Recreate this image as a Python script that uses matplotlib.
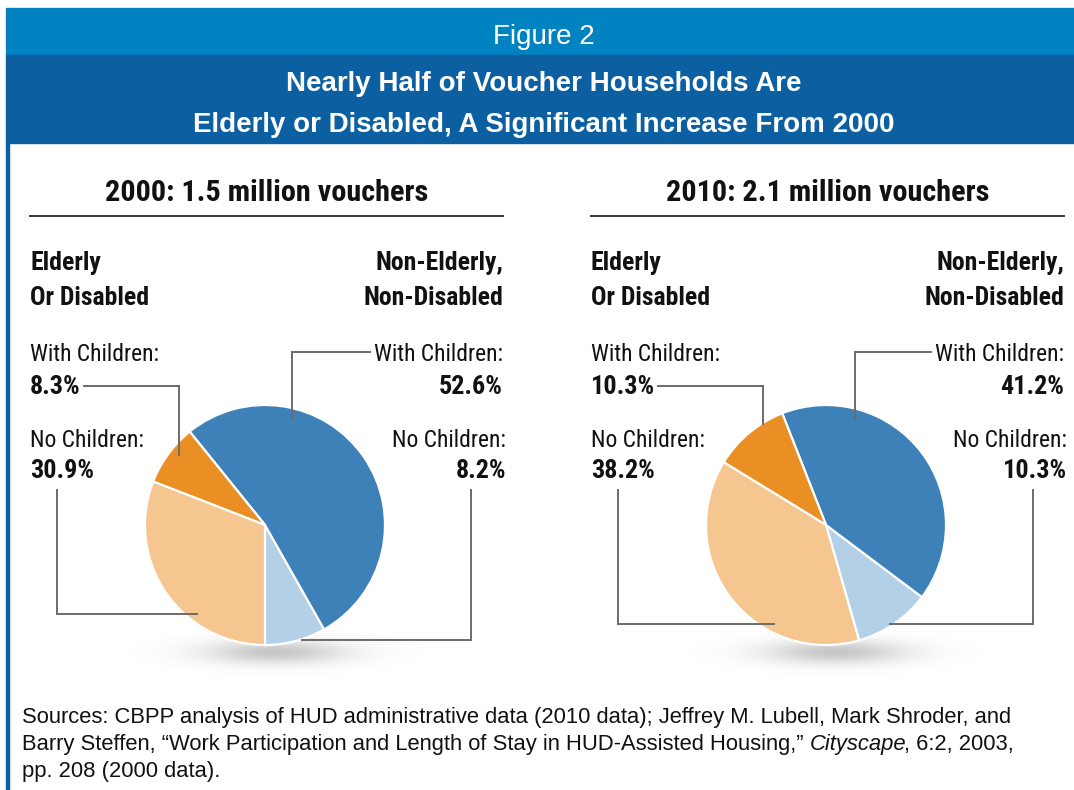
import numpy as np
import matplotlib
matplotlib.use("Agg")
import matplotlib.pyplot as plt
from matplotlib import font_manager as fm
from matplotlib.patches import Rectangle

W, H = 1074, 790

# Datos del gráfico
fig_label = "Figure 2"
titulo = ["Nearly Half of Voucher Households Are",
          "Elderly or Disabled, A Significant Increase From 2000"]
panel_titles = ["2000: 1.5 million vouchers", "2010: 2.1 million vouchers"]
grupo_izq = ["Elderly", "Or Disabled"]
grupo_der = ["Non-Elderly,", "Non-Disabled"]
# orden de las porciones: no elderly sin hijos, no elderly con hijos,
# elderly con hijos, elderly sin hijos
shares_2000 = [8.2, 52.6, 8.3, 30.9]
shares_2010 = [10.3, 41.2, 10.3, 38.2]
colores = ["#b4d0e6", "#3e80b8", "#e98f24", "#f5c68f"]
fuente_1 = "Sources: CBPP analysis of HUD administrative data (2010 data); Jeffrey M. Lubell, Mark Shroder, and"
fuente_2 = ["Barry Steffen, \u201cWork Participation and Length of Stay in HUD-Assisted Housing,\u201d ",
            "Cityscape", ", 6:2, 2003,"]
fuente_3 = "pp. 208 (2000 data)."

SANS = ["Liberation Sans", "DejaVu Sans"]
LINE = "#6b6b6b"


def fuente_estrecha():
    # busca una familia condensada instalada
    prefs = ["Liberation Sans Narrow", "Roboto Condensed", "Noto Sans Condensed",
             "Open Sans Condensed", "Arial Narrow", "Noto Sans", "Roboto",
             "Open Sans", "DejaVu Sans"]
    for p in prefs:
        for f in fm.fontManager.ttflist:
            if f.name != p:
                continue
            if "Narrow" in p or "Condensed" in p:
                return p, "normal"
            if str(f.stretch) in ("condensed", "semi-condensed", "extra-condensed"):
                return p, "condensed"
    return "Liberation Sans", "normal"


NARROW, STRETCH = fuente_estrecha()

fig = plt.figure(figsize=(W / 100, H / 100), dpi=100)
ax = fig.add_axes([0, 0, 1, 1])
ax.axis("off")


def sombra(cx, cy):
    # sombra gris difusa bajo el pastel
    xs = np.linspace(-170, 170, 340)
    ys = np.linspace(-40, 40, 80)
    X, Y = np.meshgrid(xs, ys)
    img = np.zeros((len(ys), len(xs), 4))
    img[..., :3] = 0.42
    img[..., 3] = 0.38 * np.exp(-(X / 70.0) ** 2 - (Y / 12.0) ** 2)
    ax.imshow(img, extent=(cx - 170, cx + 170, cy + 40, cy - 40), zorder=1,
              interpolation="bilinear")


# pasteles (el eje y va invertido: ángulos y sentido se reflejan)
paneles = [(30, shares_2000, panel_titles[0], 90), (591, shares_2010, panel_titles[1], 74)]
for x0, shares, _, start in paneles:
    cx, cy = x0 + 235, 525
    sombra(cx + 10, cy + 127)
    ax.pie(shares, colors=colores, startangle=start, counterclock=False,
           center=(cx, cy), radius=120,
           wedgeprops=dict(edgecolor="white", linewidth=1.6, zorder=3))

ax.set_xlim(0, W)
ax.set_ylim(H, 0)
ax.set_aspect("auto")

# cabecera
ax.add_patch(Rectangle((6, 8), W - 6, 47, color="#0182c1", zorder=2))
ax.add_patch(Rectangle((6, 55), W - 6, 88, color="#0c5fa0", zorder=2))
ax.add_patch(Rectangle((6, 143), 2.5, H - 143, color="#0c5fa0", zorder=2))
ax.text(544, 44, fig_label, ha="center", va="baseline", fontsize=20,
        family=SANS, color="white", zorder=4)
ax.text(544, 91, titulo[0], ha="center", va="baseline", fontsize=20,
        fontweight="bold", family=SANS, color="white", zorder=4)
ax.text(544, 132, titulo[1], ha="center", va="baseline", fontsize=20,
        fontweight="bold", family=SANS, color="white", zorder=4)

fig.canvas.draw()
rend = fig.canvas.get_renderer()


def bordes(t):
    bb = t.get_window_extent(rend)
    return bb.x0, bb.x1


def talla(texto, objetivo, maximo, peso="normal", fam=None):
    # tamaño de letra que da el ancho del original, sin pasar de "maximo"
    t = ax.text(0, 0, texto, fontsize=maximo, fontweight=peso,
                family=fam or NARROW, fontstretch=STRETCH if fam is None else "normal")
    x0, x1 = bordes(t)
    t.remove()
    return min(maximo, maximo * objetivo / (x1 - x0))


s_tit = talla(panel_titles[0], 324, 23, "bold")
s_grp = talla(grupo_der[1], 140, 22, "bold")
s_lab = talla("With Children:", 129, 18)
s_val = talla("52.6%", 64, 19, "bold")
s_src = talla(fuente_1, 993, 16, fam=SANS)


def txt(x, y, s, size, ha="left", peso="normal"):
    return ax.text(x, y, s, ha=ha, va="baseline", fontsize=size, fontweight=peso,
                   family=NARROW, fontstretch=STRETCH, color="#111111", zorder=6)


guias = []
for x0, shares, tit, start in paneles:
    x1 = x0 + 473
    txt((x0 + x1) / 2, 201, tit, s_tit, "center", "bold")
    ax.plot([x0, x1], [216, 216], color="#222222", lw=1.3)
    txt(x0, 270, grupo_izq[0], s_grp, "left", "bold")
    txt(x0, 305, grupo_izq[1], s_grp, "left", "bold")
    txt(x1, 270, grupo_der[0], s_grp, "right", "bold")
    txt(x1, 305, grupo_der[1], s_grp, "right", "bold")

    nd_nc, nd_wc, ed_wc, ed_nc = shares
    txt(x0, 361, "With Children:", s_lab)
    v1 = txt(x0, 394, f"{ed_wc:.1f}%", s_val, "left", "bold")
    txt(x0, 447, "No Children:", s_lab)
    txt(x0, 478, f"{ed_nc:.1f}%", s_val, "left", "bold")
    t3 = txt(x1, 361, "With Children:", s_lab, "right")
    txt(x1, 394, f"{nd_wc:.1f}%", s_val, "right", "bold")
    txt(x1 + 3, 447, "No Children:", s_lab, "right")
    txt(x1 + 3, 478, f"{nd_nc:.1f}%", s_val, "right", "bold")

    # líneas guía desde cada etiqueta hasta su porción (maquetación)
    fin_v1 = bordes(v1)[1] + 3
    ini_t3 = bordes(t3)[0] - 4
    if x0 < 300:
        guias += [[(fin_v1, 386), (179, 386), (179, 455)],
                  [(ini_t3, 352), (292, 352), (292, 418)],
                  [(x0 + 27, 490), (x0 + 27, 614), (197, 614)],
                  [(x1 - 32, 490), (x1 - 32, 640), (302, 640)]]
    else:
        guias += [[(fin_v1, 386), (763, 386), (763, 424)],
                  [(ini_t3, 352), (855, 352), (855, 419)],
                  [(x0 + 27, 490), (x0 + 27, 624), (774, 624)],
                  [(x1 - 31, 490), (x1 - 31, 624), (890, 624)]]

for g in guias:
    xs, ys = zip(*g)
    ax.plot(xs, ys, color=LINE, lw=1.4, zorder=5, solid_joinstyle="miter")

# fuente
ax.text(22, 723, fuente_1, ha="left", va="baseline", fontsize=s_src, family=SANS,
        color="#111111")
x = 22
for i, parte in enumerate(fuente_2):
    t = ax.text(x, 750, parte, ha="left", va="baseline", fontsize=s_src, family=SANS,
                style="italic" if i == 1 else "normal", color="#111111")
    x = bordes(t)[1] - (2 if i == 1 else 0)
ax.text(22, 777, fuente_3, ha="left", va="baseline", fontsize=s_src, family=SANS,
        color="#111111")

fig.savefig("out.png", dpi=100)
